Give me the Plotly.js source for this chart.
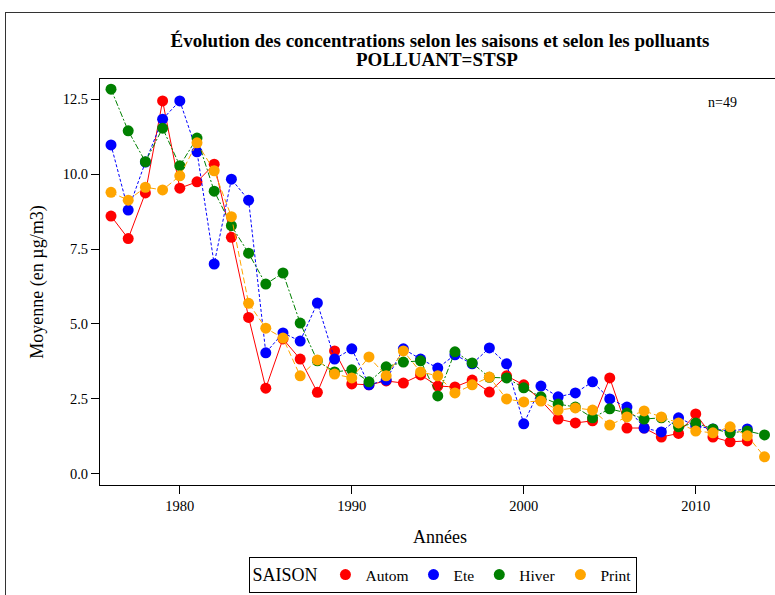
<!DOCTYPE html>
<html><head><meta charset="utf-8">
<script src="https://cdn.plot.ly/plotly-3.0.1.min.js"></script>
<style>
html,body{margin:0;padding:0;overflow:hidden;background:#fff;width:775px;height:595px;}
#wrap{position:relative;width:775px;height:595px;overflow:hidden;}
#chart{position:absolute;left:0;top:0;width:790px;height:595px;}
#frame{position:absolute;left:5px;top:12px;width:900px;height:700px;border:1px solid #333;pointer-events:none;}
</style></head>
<body><div id="wrap"><div id="chart"></div><div id="frame"></div></div>
<script>
const years = [];
for (let y = 1976; y <= 2014; y++) years.push(y);

const autom = [8.6, 7.85, 9.37, 12.44, 9.53, 9.74, 10.33, 7.89, 5.22, 2.86, 4.5, 3.83, 2.72, 4.1, 3.0, 2.97, 3.1, 3.03, 3.3, 2.93, 2.9, 3.13, 2.73, 3.27, 2.97, 2.45, 1.83, 1.7, 1.77, 3.2, 1.53, 1.53, 1.23, 1.35, 2.0, 1.23, 1.07, 1.1, null];
const ete = [10.97, 8.8, 10.4, 11.83, 12.44, 10.74, 7.0, 9.83, 9.13, 4.04, 4.7, 4.43, 5.7, 3.83, 4.17, 2.97, 3.13, 4.17, 3.83, 3.53, 3.97, 3.67, 4.2, 3.67, 1.67, 2.93, 2.57, 2.7, 3.07, 2.5, 2.23, 1.53, 1.4, 1.87, 1.6, 1.5, 1.43, 1.5, null];
const hiver = [12.83, 11.44, 10.41, 11.53, 10.28, 11.2, 9.43, 8.28, 7.36, 6.33, 6.7, 5.03, 3.77, 3.4, 3.47, 3.07, 3.57, 3.73, 3.77, 2.6, 4.07, 3.7, 3.22, 3.2, 2.87, 2.57, 2.33, 2.23, 1.87, 2.17, 2.03, 1.83, 1.87, 1.57, 1.7, 1.5, 1.37, 1.43, 1.3];
const print = [9.39, 9.13, 9.56, 9.47, 9.94, 11.04, 10.11, 8.58, 5.69, 4.86, 4.53, 3.27, 3.8, 3.33, 3.2, 3.9, 3.27, 4.1, 3.4, 3.27, 2.7, 2.97, 3.23, 2.5, 2.4, 2.43, 2.13, 2.2, 2.13, 1.63, 1.9, 2.1, 1.9, 1.7, 1.43, 1.37, 1.57, 1.27, 0.57];

const yTicks = [0, 2.5, 5, 7.5, 10, 12.5];
const xTicks = [1980, 1990, 2000, 2010];

const seriesNames = ['Autom', 'Ete', 'Hiver', 'Print'];
const seriesData = [autom, ete, hiver, print];
const colors = ['#FF0000', '#0000FF', '#008000', '#FFA500'];
const dashes = ['solid', '3px,2px', '6px,2px,2px,2px', '6px,3px'];

const traces = [];
seriesNames.forEach((name, i) => {
  traces.push({
    x: years, y: seriesData[i], type: 'scatter', mode: 'lines',
    line: {color: colors[i], width: 1, dash: dashes[i]},
    showlegend: false, hoverinfo: 'skip', connectgaps: false
  });
  traces.push({
    x: years, y: seriesData[i], type: 'scatter', mode: 'markers', name: name,
    marker: {color: colors[i], size: 11, line: {width: 0}},
    showlegend: true
  });
});

const serif = 'Liberation Serif, Times New Roman, serif';
const layout = {
  width: 790, height: 595,
  margin: {l: 100, r: 10, t: 79, b: 110},
  paper_bgcolor: '#fff', plot_bgcolor: '#fff',
  font: {family: serif, color: '#000', size: 14},
  title: {
    text: '<b>Évolution des concentrations selon les saisons et selon les polluants</b>',
    font: {family: serif, size: 19, color: '#000'},
    x: 0.557, xref: 'container', xanchor: 'center', y: 0.933, yref: 'container', yanchor: 'middle'
  },
  xaxis: {
    range: [1975.36, 2014.9], tickvals: xTicks, tickformat: 'd',
    showgrid: false, zeroline: false, showline: true, linecolor: '#000', linewidth: 1, mirror: true,
    ticks: 'outside', ticklen: 8, tickcolor: '#000', tickfont: {size: 14.5, family: serif},
    automargin: false,
    title: {text: 'Années', font: {size: 18, family: serif}, standoff: 16}
  },
  yaxis: {
    range: [-0.37, 13.17], tickvals: yTicks, tickformat: '.1f',
    showgrid: false, zeroline: false, showline: true, linecolor: '#000', linewidth: 1, mirror: true,
    ticks: 'outside', ticklen: 8, tickcolor: '#000', tickfont: {size: 14.5, family: serif},
    automargin: false,
    title: {text: 'Moyenne (en µg/m3)', font: {size: 18, family: serif}, standoff: 14}
  },
  legend: {
    orientation: 'h', xref: 'container', x: 0.5613, xanchor: 'center',
    yref: 'container', y: 0.0336, yanchor: 'middle',
    bordercolor: '#000', borderwidth: 1, bgcolor: '#fff',
    font: {size: 15.5, family: serif},
    title: {text: 'SAISON', font: {size: 18, family: serif}, side: 'left'},
    itemwidth: 30, tracegroupgap: 0
  },
  annotations: [
    {
      text: '<b>POLLUANT=STSP</b>', xref: 'paper', yref: 'paper', x: 0.495, y: 1.0468,
      xanchor: 'center', yanchor: 'middle', showarrow: false,
      font: {size: 19, family: serif, color: '#000'}
    },
    {
      text: 'n=49', xref: 'paper', yref: 'paper', x: 0.915, y: 0.943,
      showarrow: false, font: {size: 14, family: serif}, xanchor: 'center', yanchor: 'middle'
    }
  ]
};

Plotly.newPlot('chart', traces, layout, {displayModeBar: false, staticPlot: true});
</script>
</body></html>
